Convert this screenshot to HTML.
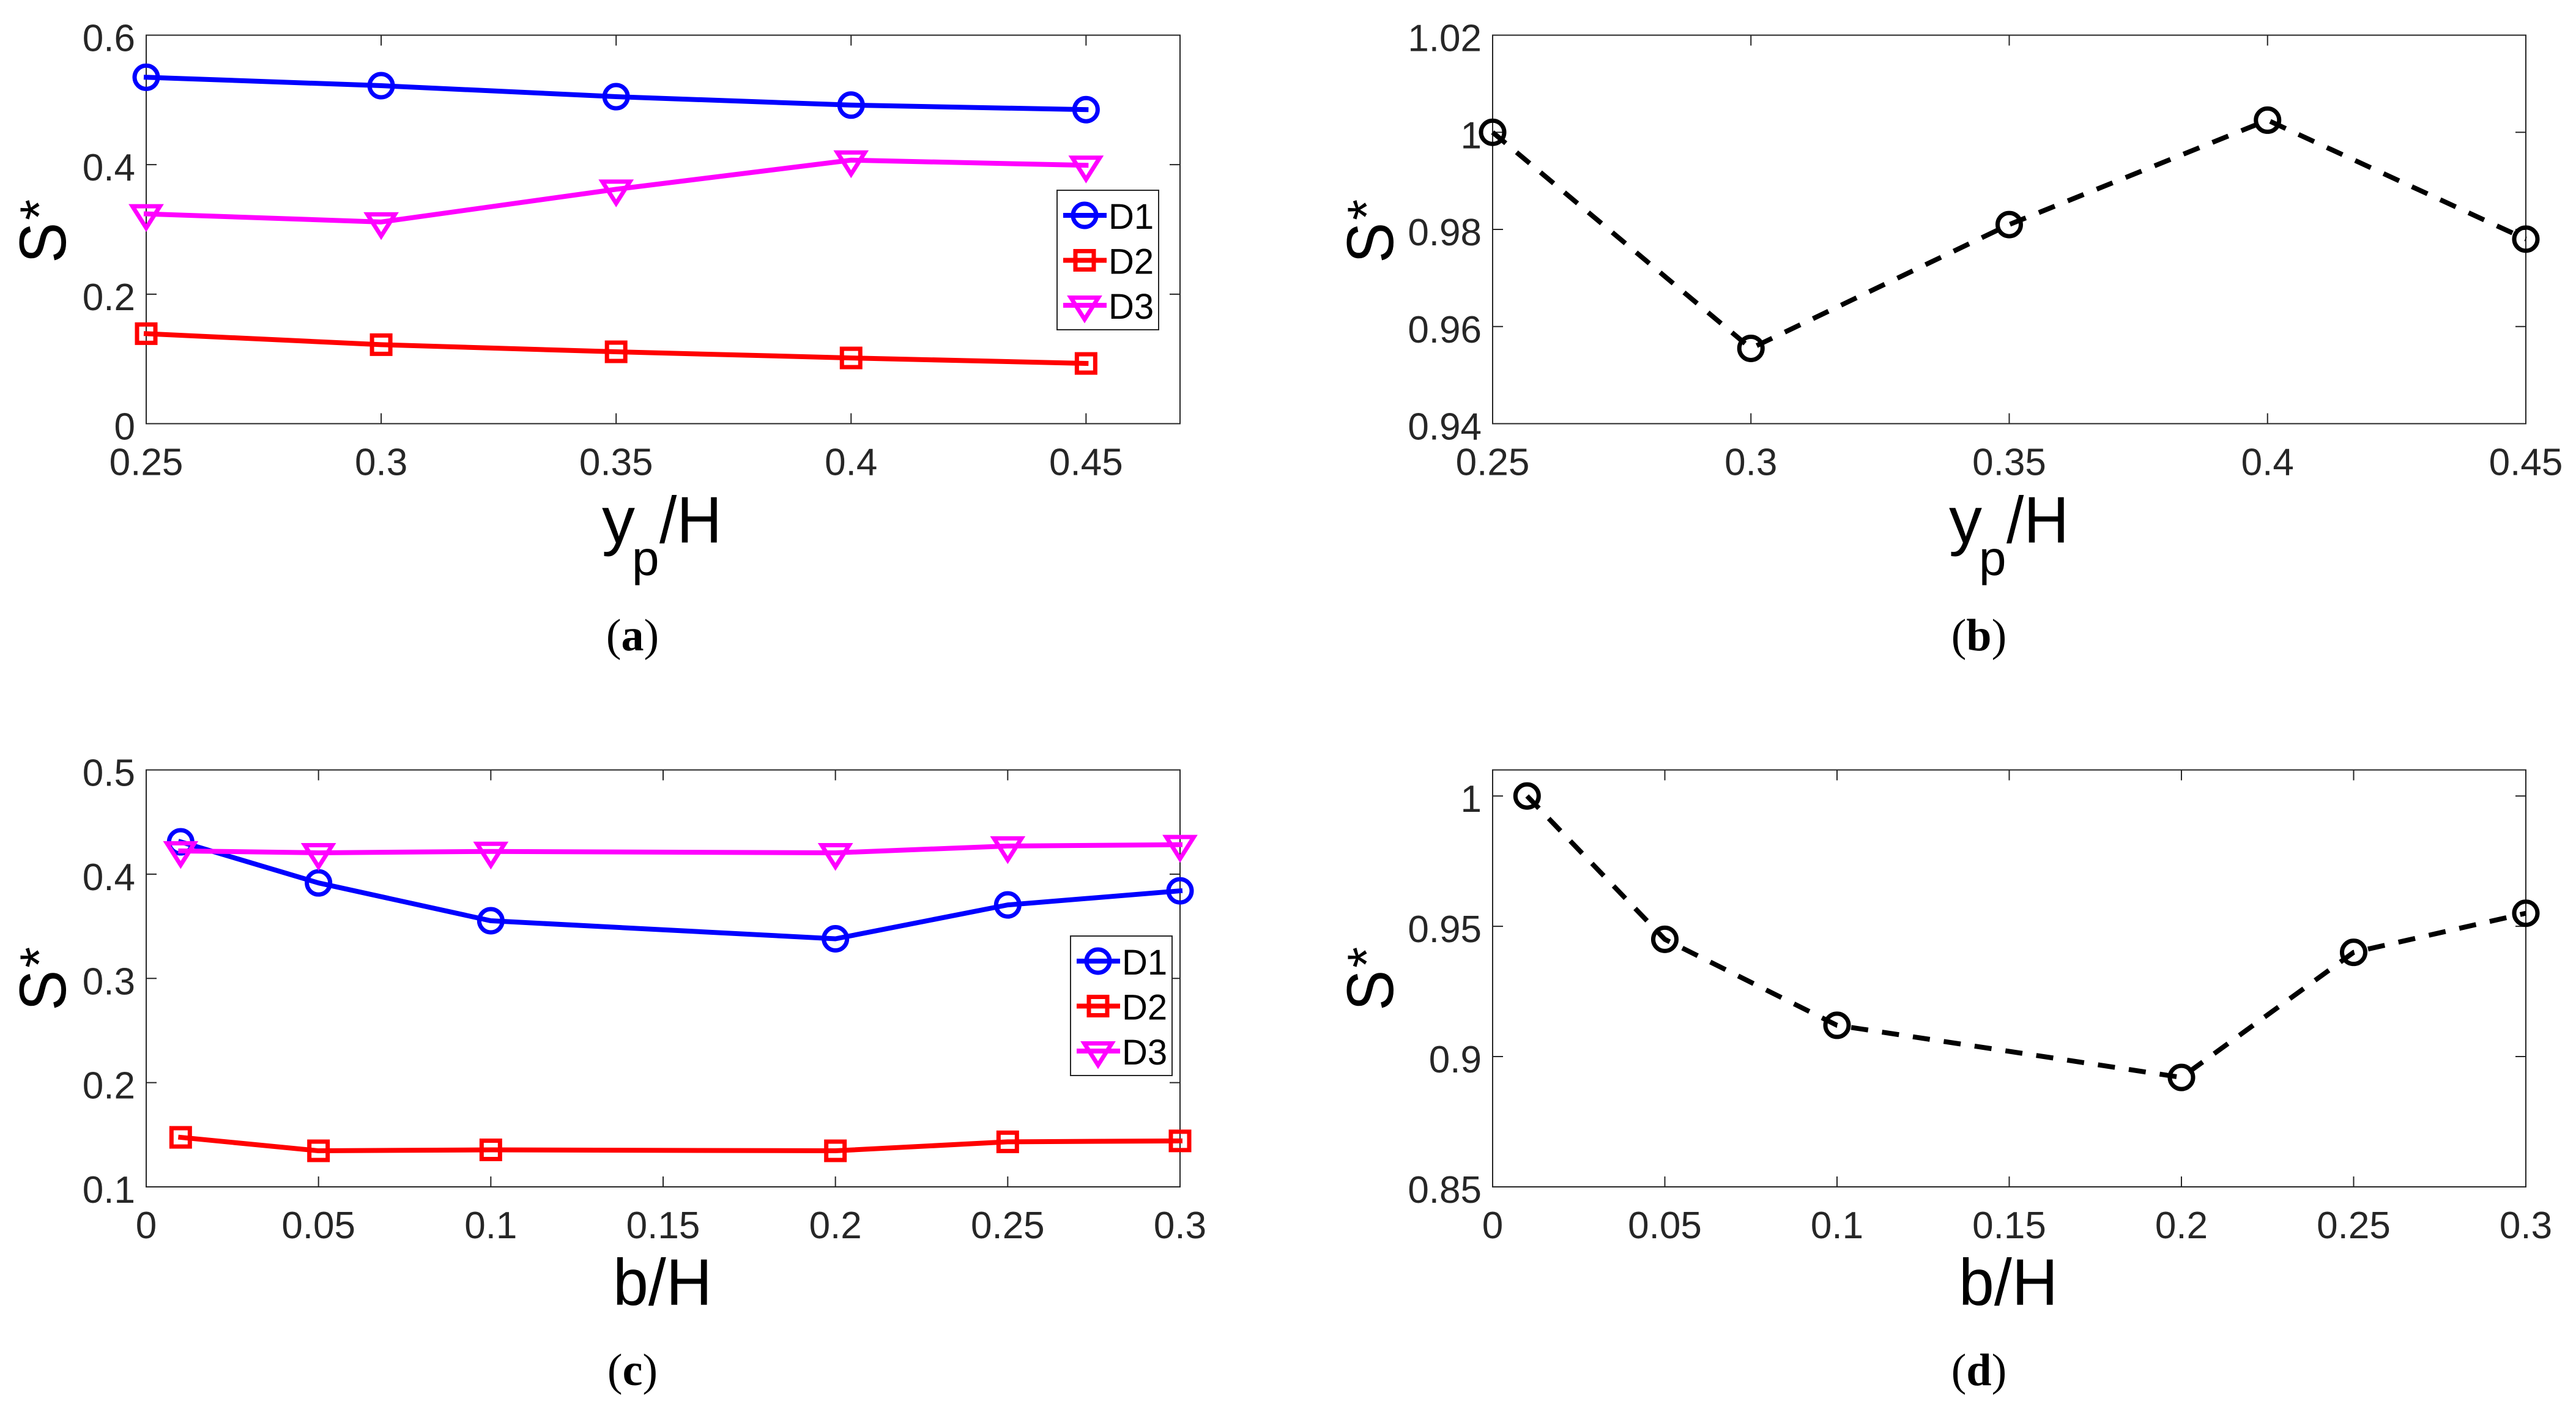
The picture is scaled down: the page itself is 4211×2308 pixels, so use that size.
<!DOCTYPE html>
<html lang="en">
<head>
<meta charset="utf-8">
<title>S* versus yp/H and b/H</title>
<style>
html,body{margin:0;padding:0;background:#fff;}
svg{display:block;}
text{font-family:"Liberation Sans",sans-serif;}
.cap{font-family:"Liberation Serif",serif;font-size:74px;fill:#000;}
.lab{font-size:108px;fill:#000;}
.sub{font-size:80px;fill:#000;}
.star{font-size:88px;fill:#000;}
</style>
</head>
<body>
<svg id="figure" xmlns="http://www.w3.org/2000/svg" width="4211" height="2308" viewBox="0 0 4211 2308">
<rect x="0" y="0" width="4211" height="2308" fill="#fff"/>

<g>
<text class="lab" x="984" y="887">y</text><text class="sub" x="1033" y="940">p</text><text class="lab" x="1078" y="887" textLength="102" lengthAdjust="spacingAndGlyphs">/H</text>
</g>
<g>
<text class="lab" x="3186" y="887">y</text><text class="sub" x="3235" y="940">p</text><text class="lab" x="3280" y="887" textLength="102" lengthAdjust="spacingAndGlyphs">/H</text>
</g>
<text class="lab" x="1002" y="2133" textLength="162" lengthAdjust="spacingAndGlyphs">b/H</text>
<text class="lab" x="3202" y="2133" textLength="162" lengthAdjust="spacingAndGlyphs">b/H</text>

<g>
<text class="lab" transform="translate(107,430) rotate(-90) scale(0.92,1)">S</text><text class="star" transform="translate(94,360) rotate(-90)">*</text>
</g>
<g>
<text class="lab" transform="translate(2277,430) rotate(-90) scale(0.92,1)">S</text><text class="star" transform="translate(2264,360) rotate(-90)">*</text>
</g>
<g>
<text class="lab" transform="translate(107,1652) rotate(-90) scale(0.92,1)">S</text><text class="star" transform="translate(94,1582) rotate(-90)">*</text>
</g>
<g>
<text class="lab" transform="translate(2277,1652) rotate(-90) scale(0.92,1)">S</text><text class="star" transform="translate(2264,1582) rotate(-90)">*</text>
</g>

<text class="cap" x="1034" y="1063" text-anchor="middle">(<tspan font-weight="bold">a</tspan>)</text>
<text class="cap" x="3235" y="1063" text-anchor="middle">(<tspan font-weight="bold">b</tspan>)</text>
<text class="cap" x="1034" y="2264" text-anchor="middle">(<tspan font-weight="bold">c</tspan>)</text>
<text class="cap" x="3235" y="2264" text-anchor="middle">(<tspan font-weight="bold">d</tspan>)</text>
</svg>

<script>
// ---- data ----
const ypCategories = [0.25, 0.3, 0.35, 0.4, 0.45];
const bCategories = [0.01, 0.05, 0.1, 0.2, 0.25, 0.3];

const panelAD1 = [0.535, 0.522, 0.505, 0.492, 0.485];
const panelAD2 = [0.139, 0.122, 0.111, 0.1015, 0.093];
const panelAD3 = [0.324, 0.3115, 0.362, 0.407, 0.399];

const panelBRatio = [1.0, 0.9555, 0.981, 1.0025, 0.978];

const panelCD1 = [0.431, 0.3916, 0.3553, 0.338, 0.3705, 0.384];
const panelCD2 = [0.1475, 0.1346, 0.1355, 0.1346, 0.1432, 0.1441];
const panelCD3 = [0.4223, 0.4205, 0.4218, 0.4205, 0.427, 0.4283];

const panelDRatio = [1.0, 0.945, 0.912, 0.892, 0.94, 0.955];

const panelAXTicks = ['0.25', '0.3', '0.35', '0.4', '0.45'];
const panelAYTicks = ['0', '0.2', '0.4', '0.6'];
const panelBXTicks = ['0.25', '0.3', '0.35', '0.4', '0.45'];
const panelBYTicks = ['0.94', '0.96', '0.98', '1', '1.02'];
const panelCXTicks = ['0', '0.05', '0.1', '0.15', '0.2', '0.25', '0.3'];
const panelCYTicks = ['0.1', '0.2', '0.3', '0.4', '0.5'];
const panelDXTicks = ['0', '0.05', '0.1', '0.15', '0.2', '0.25', '0.3'];
const panelDYTicks = ['0.85', '0.9', '0.95', '1'];

const legendLabels = ['D1', 'D2', 'D3'];

// ---- rendering ----
const NS = 'http://www.w3.org/2000/svg';
const svg = document.getElementById('figure');
const AXIS = '#262626';
const BLUE = '#0000ff', RED = '#ff0000', MAGENTA = '#ff00ff', BLACK = '#000000';

function mk(parent, tag, attrs) {
  const el = document.createElementNS(NS, tag);
  for (const k in attrs) el.setAttribute(k, attrs[k]);
  parent.appendChild(el);
  return el;
}

function drawMarker(parent, kind, px, py, color, name) {
  const g = mk(parent, 'g', {transform: 'translate(' + px + ',' + py + ')', fill: 'none', stroke: color, 'stroke-width': 7});
  
  
  if (kind === 'circle') {
    mk(g, 'circle', {cx: 0, cy: 0, r: 19});
  } else if (kind === 'square') {
    mk(g, 'rect', {x: -15, y: -15, width: 30, height: 30});
  } else {
    mk(g, 'path', {d: 'M-22.5,-12.5 L22.5,-12.5 L0,23 Z'});
  }
}

function drawPanel(p) {
  const sx = v => p.left + (v - p.xMin) / (p.xMax - p.xMin) * (p.right - p.left);
  const sy = v => p.bottom - (v - p.yMin) / (p.yMax - p.yMin) * (p.bottom - p.top);

  const g = mk(svg, 'g', {});
  
  

  const frame = mk(g, 'rect', {x: p.left, y: p.top, width: p.right - p.left, height: p.bottom - p.top, fill: 'none', stroke: AXIS, 'stroke-width': 2});
  
  

  p.xTicks.forEach(label => {
    const v = Number(label), x = sx(v);
    const t = mk(g, 'path', {d: 'M' + x + ',' + p.bottom + 'v-17M' + x + ',' + p.top + 'v17', stroke: AXIS, 'stroke-width': 2, fill: 'none'});
    
    
    const tx = mk(g, 'text', {x: x, y: p.bottom + 84, 'text-anchor': 'middle', 'font-size': 62, fill: AXIS});
    
    
    tx.textContent = label;
  });

  p.yTicks.forEach(label => {
    const v = Number(label), y = sy(v);
    const t = mk(g, 'path', {d: 'M' + p.left + ',' + y + 'h17M' + p.right + ',' + y + 'h-17', stroke: AXIS, 'stroke-width': 2, fill: 'none'});
    
    
    const tx = mk(g, 'text', {x: p.left - 18, y: y + 26, 'text-anchor': 'end', 'font-size': 62, fill: AXIS});
    
    
    tx.textContent = label;
  });

  p.series.forEach(s => {
    const pts = s.values.map((v, i) => sx(p.xs[i]) + ',' + sy(v)).join(' ');
    const attrs = {points: pts, fill: 'none', stroke: s.color, 'stroke-width': 8, 'stroke-linejoin': 'round'};
    if (s.dash) {
      attrs['stroke-dasharray'] = s.dash;
    } else {
      attrs['stroke-linecap'] = 'square';
    }
    const line = mk(g, 'polyline', attrs);
    
    
    s.values.forEach((v, i) => {
      drawMarker(g, s.marker, sx(p.xs[i]), sy(v), s.color, 'point-' + p.id + '-' + s.name);
    });
  });

  if (p.legend) {
    const L = p.legend;
    const lg = mk(g, 'g', {});
    
    
    const box = mk(lg, 'rect', {x: L.x, y: L.y, width: 166, height: 228, fill: '#fff', stroke: AXIS, 'stroke-width': 2});
    
    
    p.series.forEach((s, i) => {
      const rowY = L.y + 41 + i * 73.5;
      const entry = mk(lg, 'g', {});
      
      
      mk(entry, 'line', {x1: L.x + 10, x2: L.x + 81, y1: rowY, y2: rowY, stroke: s.color, 'stroke-width': 8});
      drawMarker(entry, s.marker, L.x + 45, rowY, s.color, 'legend-marker-' + legendLabels[i]);
      const tx = mk(entry, 'text', {x: L.x + 84, y: rowY + 22, 'font-size': 58, fill: '#000'});
      
      
      tx.textContent = legendLabels[i];
    });
  }
}

drawPanel({
  id: 'a', left: 239, right: 1929, top: 57.5, bottom: 692.5,
  xMin: 0.25, xMax: 0.47, yMin: 0, yMax: 0.6,
  xs: ypCategories, xTicks: panelAXTicks, yTicks: panelAYTicks,
  series: [
    {name: 'D1', values: panelAD1, color: BLUE, marker: 'circle'},
    {name: 'D2', values: panelAD2, color: RED, marker: 'square'},
    {name: 'D3', values: panelAD3, color: MAGENTA, marker: 'triangle'}
  ],
  legend: {x: 1728, y: 311}
});

drawPanel({
  id: 'b', left: 2440, right: 4129, top: 57.5, bottom: 692.5,
  xMin: 0.25, xMax: 0.45, yMin: 0.94, yMax: 1.02,
  xs: ypCategories, xTicks: panelBXTicks, yTicks: panelBYTicks,
  series: [
    {name: 'ratio', values: panelBRatio, color: BLACK, marker: 'circle', dash: '28 23'}
  ]
});

drawPanel({
  id: 'c', left: 239, right: 1929, top: 1258.5, bottom: 1940,
  xMin: 0, xMax: 0.3, yMin: 0.1, yMax: 0.5,
  xs: bCategories, xTicks: panelCXTicks, yTicks: panelCYTicks,
  series: [
    {name: 'D1', values: panelCD1, color: BLUE, marker: 'circle'},
    {name: 'D2', values: panelCD2, color: RED, marker: 'square'},
    {name: 'D3', values: panelCD3, color: MAGENTA, marker: 'triangle'}
  ],
  legend: {x: 1750, y: 1530}
});

drawPanel({
  id: 'd', left: 2440, right: 4129, top: 1258.5, bottom: 1940,
  xMin: 0, xMax: 0.3, yMin: 0.85, yMax: 1.01,
  xs: bCategories, xTicks: panelDXTicks, yTicks: panelDYTicks,
  series: [
    {name: 'ratio', values: panelDRatio, color: BLACK, marker: 'circle', dash: '28 23'}
  ]
});
</script>
</body>
</html>
